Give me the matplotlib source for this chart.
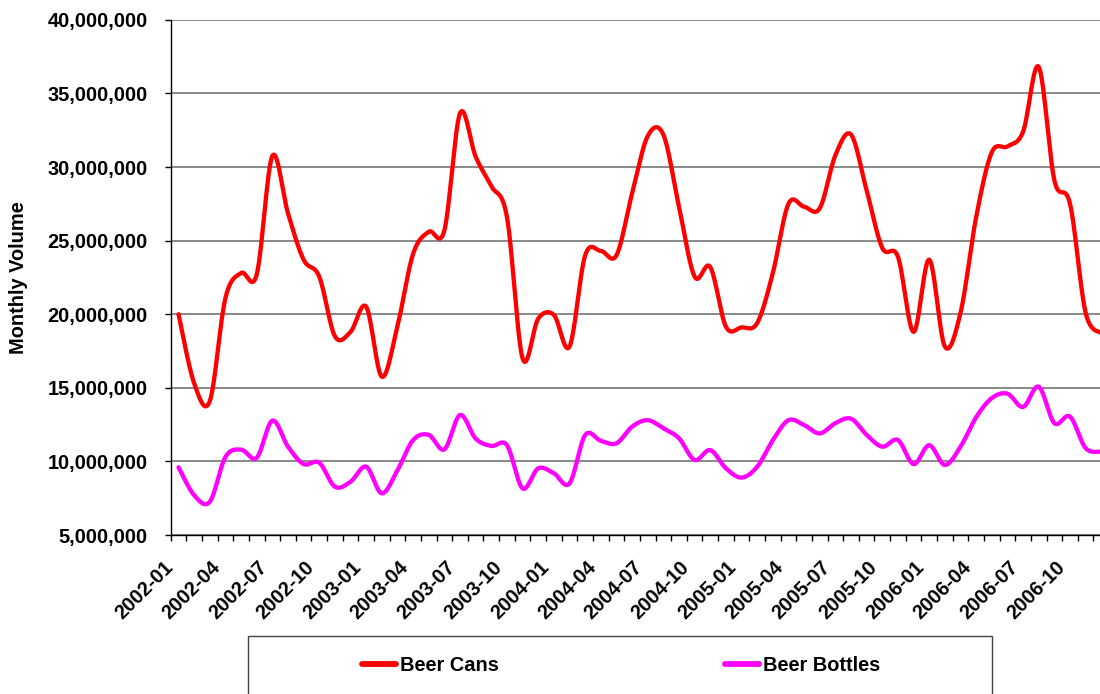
import numpy as np
import matplotlib
matplotlib.use("Agg")
import matplotlib.pyplot as plt
from matplotlib.ticker import FuncFormatter, FixedLocator
from matplotlib.lines import Line2D
from matplotlib.patches import Rectangle
from matplotlib.transforms import ScaledTranslation

plt.rcParams['font.family'] = ['Liberation Sans', 'DejaVu Sans']
plt.rcParams['font.weight'] = 'bold'

# Monthly volumes, Jan 2002 - Dec 2006 (millions)
months = [f"{y}-{m:02d}" for y in range(2002, 2007) for m in range(1, 13)]
beer_cans = [
    20.0, 15.3, 14.1, 21.1, 22.8, 22.7, 30.75, 26.85, 23.7, 22.55, 18.5, 18.8,
    20.5, 15.75, 19.2, 24.1, 25.6, 25.7, 33.65, 30.7, 28.7, 26.6, 17.0, 19.7,
    19.95, 17.8, 24.0, 24.3, 24.0, 28.2, 32.1, 32.2, 27.3, 22.55, 23.2, 19.15,
    19.1, 19.4, 22.8, 27.5, 27.3, 27.2, 30.8, 32.2, 28.4, 24.5, 23.9, 18.8,
    23.7, 17.8, 20.1, 26.6, 31.0, 31.4, 32.4, 36.8, 29.1, 27.5, 20.1, 18.7,
]
beer_bottles = [
    9.6, 7.7, 7.26, 10.3, 10.8, 10.25, 12.77, 11.0, 9.82, 9.91, 8.28, 8.62,
    9.64, 7.83, 9.4, 11.45, 11.8, 10.82, 13.15, 11.55, 11.05, 11.1, 8.17, 9.53,
    9.19, 8.51, 11.79, 11.4, 11.23, 12.36, 12.8, 12.25, 11.57, 10.1, 10.77, 9.53,
    8.9, 9.64, 11.45, 12.8, 12.47, 11.9, 12.6, 12.9, 11.8, 11.0, 11.45, 9.82,
    11.1, 9.76, 11.0, 13.0, 14.3, 14.6, 13.7, 15.07, 12.6, 13.04, 10.9, 10.66,
]
series_names = ["Beer Cans", "Beer Bottles"]
series_colors = ["#FF0000", "#FF00FF"]


def smooth(y, steps=24):
    """Catmull-Rom curve through every point (cubic Bezier form)."""
    y = np.asarray(y, dtype=float) * 1e6
    x = np.arange(len(y), dtype=float)
    pts = np.column_stack([x, y])
    ext = np.vstack([pts[0], pts, pts[-1]])
    t = np.linspace(0, 1, steps, endpoint=False)[:, None]
    out = []
    for i in range(len(pts) - 1):
        p0, p1, p2, p3 = ext[i], ext[i + 1], ext[i + 2], ext[i + 3]
        c1 = p1 + (p2 - p0) / 6.0
        c2 = p2 - (p3 - p1) / 6.0
        seg = ((1 - t) ** 3) * p1 + 3 * ((1 - t) ** 2) * t * c1 \
            + 3 * (1 - t) * t ** 2 * c2 + t ** 3 * p2
        out.append(seg)
    out.append(pts[-1][None, :])
    arr = np.vstack(out)
    return arr[:, 0], arr[:, 1]


W, H = 1100, 694
fig = plt.figure(figsize=(W / 100, H / 100), dpi=100)
left_px, right_px, top_px, bottom_px = 170.7, 1109.1, 19.8, 535.0
ax = fig.add_axes([left_px / W, 1 - bottom_px / H,
                   (right_px - left_px) / W, (bottom_px - top_px) / H])

for vals, name, col in zip([beer_cans, beer_bottles], series_names, series_colors):
    xs, ys = smooth(vals)
    ax.plot(xs, ys, color=col, lw=3.1, solid_capstyle='round',
            solid_joinstyle='round', label=name, zorder=3)

ax.set_xlim(-0.5, len(months) - 0.5)
ax.set_ylim(5e6, 40e6)
ax.set_yticks(np.arange(5e6, 40e6 + 1, 5e6))
ax.yaxis.set_major_formatter(FuncFormatter(lambda v, p: f"{v:,.0f}"))
ax.grid(axis='y', color='#6a6a6a', lw=1.1, zorder=0)
ax.set_axisbelow(True)

for s in ['top', 'right']:
    ax.spines[s].set_visible(False)
for s in ['left', 'bottom']:
    ax.spines[s].set_color('black')
    ax.spines[s].set_linewidth(1.0)

label_idx = list(range(0, len(months), 3))
ax.xaxis.set_major_locator(FixedLocator(label_idx))
ax.set_xticklabels([months[i] for i in label_idx])
ax.xaxis.set_minor_locator(FixedLocator(np.arange(-0.5, len(months), 1.0)))
ax.tick_params(axis='x', which='major', length=0, pad=21, labelsize=14.4)
ax.tick_params(axis='x', which='minor', length=4.5, width=1, direction='out', color='black')
ax.tick_params(axis='y', length=4.5, width=1, direction='out', pad=12, labelsize=14.4)
shift = ScaledTranslation(-8 / 100, 0, fig.dpi_scale_trans)
for lbl in ax.get_xticklabels():
    lbl.set_rotation(45)
    lbl.set_rotation_mode('anchor')
    lbl.set_ha('right')
    lbl.set_va('center')
    lbl.set_fontweight('bold')
    lbl.set_transform(lbl.get_transform() + shift)
for lbl in ax.get_yticklabels():
    lbl.set_fontweight('bold')

fig.text(18.5 / W, 1 - 278 / H, "Monthly Volume", rotation=90,
         ha='center', va='center', fontsize=14.4, fontweight='bold')

# legend frame running off the bottom edge
fig.patches.append(Rectangle((248.3 / W, -20 / H), (992.3 - 248.3) / W, (20 + H - 635.7) / H,
                             transform=fig.transFigure, fill=False,
                             edgecolor='#444444', lw=1.0))
handles = [Line2D([], [], color=c, lw=4.2, solid_capstyle='round') for c in series_colors]
fig.legend(handles, series_names, loc='center left',
           bbox_to_anchor=(361.7 / W, 1 - 665.3 / H), ncol=2, frameon=False,
           borderpad=0, borderaxespad=0, handlelength=1.7, handletextpad=0.2,
           columnspacing=11.3, prop={'size': 14.4, 'weight': 'bold'})

fig.savefig("out.png", dpi=100)
